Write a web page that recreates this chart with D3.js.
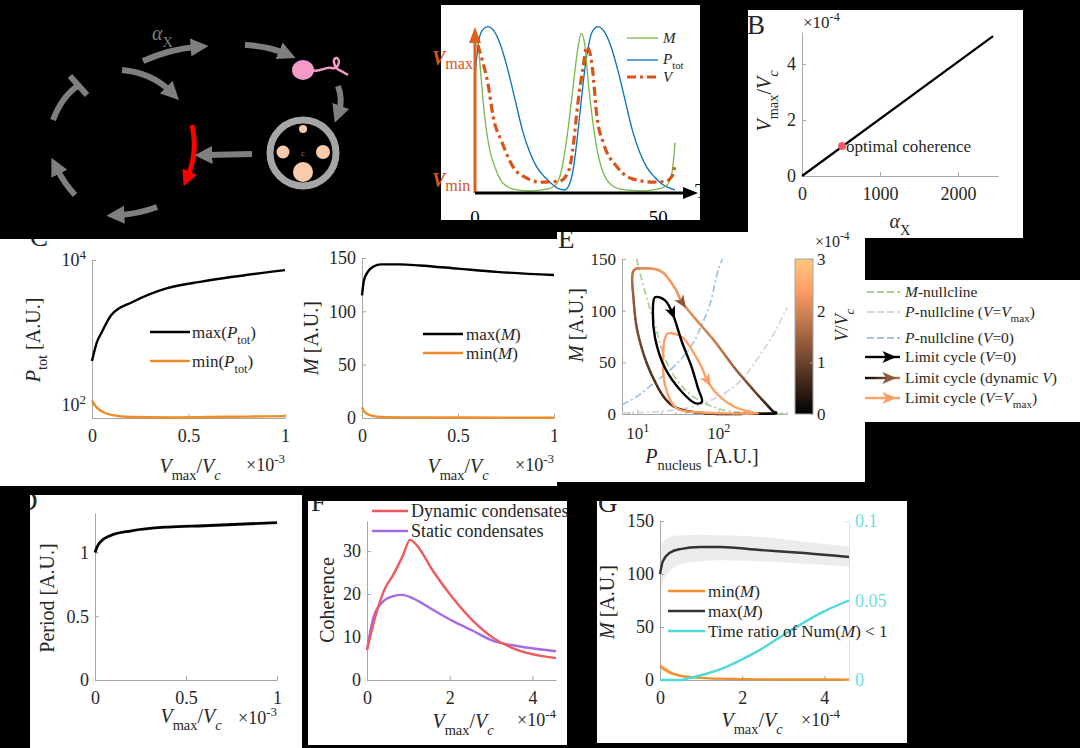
<!DOCTYPE html>
<html>
<head>
<meta charset="utf-8">
<script src="https://cdn.jsdelivr.net/npm/d3@7"></script>
<style>
body { margin: 0; background: #000; }
svg text { font-family: "Liberation Serif", "Times New Roman", serif; fill: #262626; }
</style>
</head>
<body>
<svg id="fig" width="1080" height="748"></svg>
<script>
// ---------- data ----------
// A (right): normalised time courses, [time, level]
var tsM = [[0,0.88],[0.6,0.91],[1.5,0.73],[2.2,0.55],[3,0.39],[4,0.26],[5.5,0.15],[7,0.077],[9,0.036],[11.5,0.018],[15,0.012],[20,0.024],[22,0.048],[23.5,0.125],[25,0.315],[26.5,0.58],[28,0.85],[29,0.95],[30,0.88],[31,0.64],[32,0.45],[33.3,0.26],[34.5,0.15],[36,0.077],[38,0.036],[41,0.018],[46,0.012],[50,0.024],[52.5,0.048],[53.8,0.125],[54.6,0.30]];
var tsP = [[0,0.70],[1,0.90],[2,0.97],[3.5,0.99],[5,0.97],[7,0.88],[9,0.73],[11,0.55],[13,0.37],[15,0.24],[17,0.15],[19,0.095],[21,0.054],[23,0.024],[24.5,0.018],[26,0.065],[27,0.167],[28,0.345],[29,0.55],[30,0.74],[31,0.88],[32,0.96],[33.6,0.99],[35,0.97],[37,0.88],[39,0.73],[41,0.55],[43,0.37],[45,0.24],[47,0.15],[49,0.095],[51,0.054],[53,0.03],[54.6,0.018]];
var tsV = [[0.8,0.88],[2,0.79],[3.5,0.655],[5,0.45],[7.4,0.30],[10.4,0.155],[14,0.09],[17.8,0.065],[23,0.07],[25,0.107],[26,0.167],[27,0.315],[28,0.52],[29.5,0.75],[30.5,0.87],[31.3,0.84],[32,0.75],[33.3,0.45],[35,0.30],[38.8,0.155],[42.3,0.09],[48.6,0.065],[52,0.07],[53.8,0.10],[54.6,0.167]];
var vLevels = [0.79, 0.065];          // Vmax, Vmin
var tsTicks = [0, 50];

// B
var alphaX = [0, 2450];
var vmaxRatioB = [0, 5];              // x1e-4
var optimal = [513, 1.07];

// C
var cX1 = [0, 0.026, 0.05, 0.1, 0.21, 0.39, 0.56, 0.73, 1.0];
var maxPtot = [404, 740, 1000, 1740, 2630, 4100, 5000, 5870, 7250];
var cX2 = [0, 0.01, 0.02, 0.05, 0.1, 0.2, 0.4, 0.6, 0.8, 1.0];
var minPtot = [115, 105, 95, 82, 73, 68, 67, 68, 69, 70];
var cX3 = [0, 0.01, 0.03, 0.06, 0.1, 0.2, 0.3, 0.5, 0.7, 1.0];
var maxMc = [115, 129, 137, 142, 144, 144, 143, 140, 137, 134];
var cX4 = [0, 0.01, 0.03, 0.06, 0.1, 0.2, 0.5, 1.0];
var minMc = [10, 6.5, 3.5, 1.8, 1.0, 0.6, 0.4, 0.3];

// D
var dX = [0, 0.01, 0.027, 0.08, 0.2, 0.4, 0.6, 1.0];
var period = [1.0, 1.04, 1.08, 1.13, 1.17, 1.20, 1.21, 1.235];

// E: phase plane, [P_nucleus, M]
var mNull = [[9.85,150],[12.5,118],[16.6,86],[22,54],[32,31],[51,16],[112,4],[280,1],[660,0]];
var pNullVmax = [[6.5,1],[20,2.5],[42,6],[80,13],[176,30],[345,60],[500,80],[700,103]];
var pNullV0 = [[6.5,9],[10,17],[16.6,31],[25,42],[35.5,54],[50,70],[62,86],[78,105],[90,125],[100,140],[112,150]];
var loopV0 = [[16.6,113],[22,110],[26.8,98.7],[35.6,69.7],[47.3,44.5],[56,25],[62.8,11.6],[51.5,10.6],[35.6,21.3],[22,44.5],[16.6,73.6],[15.6,98.7]];
var loopVmax = [[23.9,78],[35.6,74.5],[51.5,57],[62.8,44.5],[72.4,33],[98.9,18.4],[160,6.8],[282,1],[307,0.3],[150,0.5],[60,1.5],[35,3.5],[29,7],[22,28],[20.8,54],[22,73.5]];
var loopDyn = [[8.9,137.5],[12.5,141],[20.2,137.5],[29.2,121.7],[35.3,108.7],[51.5,92.6],[90.8,70],[160,44.2],[282,21.6],[453,3.9],[498,0.7],[282,0.2],[68.5,0.7],[26.6,8.7],[15.1,37.8],[10.3,76.5],[9,112]];
var loopDynV = [1.8, 2.1, 2.3, 2.3, 2.2, 2.1, 1.9, 1.5, 1.0, 0.4, 0.15, 0.2, 0.4, 0.6, 0.8, 1.1, 1.4];   // x1e-4
var arrowAt = { v0: 2, dyn: 4, vmax: 4 };
var cbarTicks = [0, 1, 2, 3];

// F
var dynX = [0, 0.24, 0.44, 0.63, 0.87, 1.04, 1.2, 1.6, 2.08, 2.57, 3.05, 3.63, 4.57];
var dynCoh = [7, 16, 21.4, 24.4, 29, 32.6, 31.4, 25.3, 19, 13.7, 9.8, 7, 5.1];
var statX = [0, 0.15, 0.36, 0.63, 0.85, 1.11, 1.6, 2.08, 2.57, 3.05, 3.63, 4.57];
var statCoh = [7, 14.4, 18, 19.5, 19.8, 19, 16.3, 13.7, 11.4, 9.1, 7.9, 6.7];

// G
var gX = [0, 0.07, 0.24, 0.49, 0.98, 1.46, 2.44, 3.41, 4.6];
var gMaxM = [100, 112, 120, 123.5, 125.5, 125.5, 122.6, 120, 116];
var gMaxHi = [124, 130, 135, 136.5, 137, 136.5, 135, 131, 126];
var gMaxLo = [72, 92, 103, 109, 112, 113, 112, 110, 107];
var gX2 = [0, 0.1, 0.25, 0.5, 0.8, 1.2, 2, 3, 4.6];
var gMinM = [13, 10.5, 7, 4, 2.5, 1.5, 0.8, 0.5, 0.4];
var gMinHi = [16, 13, 9, 5, 3, 2, 1, 0.7, 0.6];
var gMinLo = [10, 8, 5, 3, 2, 1, 0.5, 0.3, 0.2];
var gX3 = [0, 0.5, 0.73, 1.0, 1.54, 2.0, 2.37, 3.17, 3.98, 4.6];
var timeRatio = [0, 0, 0.0013, 0.003, 0.0075, 0.013, 0.018, 0.031, 0.043, 0.05];

// ---------- helpers ----------
var svg = d3.select('#fig');
svg.append('rect').attr('width', 1080).attr('height', 748).attr('fill', '#000');
var defs = svg.append('defs');

var boxes = {
    ts: [441, 5, 259, 215],
    B: [748, 10, 275, 228],
    C: [0, 239, 557, 247],
    E: [557, 232, 308, 250],
    Eleg: [865, 280, 215, 142],
    D: [30, 495, 272, 253],
    F: [308, 501, 259, 244],
    G: [597, 501, 310, 242]
};
Object.keys(boxes).forEach(function(k) {
    var b = boxes[k];
    svg.append('rect').attr('x', b[0]).attr('y', b[1]).attr('width', b[2]).attr('height', b[3]).attr('fill', '#fff');
    defs.append('clipPath').attr('id', 'clip-' + k)
        .append('rect').attr('x', b[0]).attr('y', b[1]).attr('width', b[2]).attr('height', b[3]);
});
function panel(k) {
    return svg.append('g').attr('clip-path', 'url(#clip-' + k + ')');
}

// tiny markup: $..$ italic, _{..} sub, _i{..} italic sub, ^{..} sup
function rich(text, str, fs) {
    var re = /(_i\{[^}]*\}|_\{[^}]*\}|\^\{[^}]*\}|\$[^$]+\$)/g;
    var parts = str.split(re).filter(function(s) { return s && s.length; });
    var off = 0;
    parts.forEach(function(p) {
        var t = p, italic = false, shift = 0, small = false;
        if (p.indexOf('_i{') === 0) { t = p.slice(3, -1); italic = true; shift = 0.33 * fs; small = true; }
        else if (p.indexOf('_{') === 0) { t = p.slice(2, -1); shift = 0.33 * fs; small = true; }
        else if (p.indexOf('^{') === 0) { t = p.slice(2, -1); shift = -0.42 * fs; small = true; }
        else if (p[0] === '$' && p.length > 1 && p[p.length - 1] === '$') { t = p.slice(1, -1); italic = true; }
        var ts = text.append('tspan').text(t);
        if (shift - off !== 0) ts.attr('dy', shift - off);
        off = shift;
        if (italic) ts.style('font-style', 'italic');
        if (small) ts.style('font-size', (fs * 0.72) + 'px');
    });
    return text;
}
function label(g, x, y, str, fs, anchor, fill) {
    var t = g.append('text').attr('x', x).attr('y', y).attr('font-size', fs)
        .attr('text-anchor', anchor || 'start');
    if (fill) t.style('fill', fill);
    return rich(t, str, fs);
}
function vlabel(g, x, y, str, fs, fill) {
    var t = g.append('text').attr('transform', 'translate(' + x + ',' + y + ') rotate(-90)')
        .attr('text-anchor', 'middle').attr('font-size', fs);
    if (fill) t.style('fill', fill);
    return rich(t, str, fs);
}
function styleAxis(g, fs, col, txt) {
    col = col || '#a6a6a6';
    g.attr('font-size', fs);
    g.select('.domain').attr('stroke', col);
    g.selectAll('.tick line').attr('stroke', col);
    g.selectAll('.tick text').style('fill', txt || '#262626');
}
function xAxis(g, scale, y, vals, fs, fmt) {
    var a = g.append('g').attr('transform', 'translate(0,' + y + ')')
        .call(d3.axisBottom(scale).tickValues(vals).tickSizeInner(-4).tickSizeOuter(0).tickPadding(11)
            .tickFormat(fmt || function(d) { return d; }));
    styleAxis(a, fs);
    return a;
}
function yAxis(g, scale, x, vals, fs, fmt) {
    var a = g.append('g').attr('transform', 'translate(' + x + ',0)')
        .call(d3.axisLeft(scale).tickValues(vals).tickSizeInner(-4).tickSizeOuter(0).tickPadding(6)
            .tickFormat(fmt || function(d) { return d; }));
    styleAxis(a, fs);
    return a;
}
function powTicks(a, fs) {
    a.selectAll('.tick text').each(function(d) {
        var t = d3.select(this).text('');
        rich(t, '10^{' + Math.round(Math.log10(d)) + '}', fs);
    });
}
function zip(xs, ys) { return xs.map(function(x, i) { return [x, ys[i]]; }); }
function legendLine(g, x1, x2, y, col, w, dash) {
    g.append('line').attr('x1', x1).attr('x2', x2).attr('y1', y).attr('y2', y)
        .attr('stroke', col).attr('stroke-width', w).attr('stroke-dasharray', dash || null);
}
function arrowHead(g, p, q, col, size) {
    var dx = q[0] - p[0], dy = q[1] - p[1], L = Math.sqrt(dx * dx + dy * dy) || 1;
    dx /= L; dy /= L;
    var tip = [p[0] + dx * size * 0.6, p[1] + dy * size * 0.6];
    var b = [p[0] - dx * size * 0.4, p[1] - dy * size * 0.4];
    var w = size * 0.42;
    g.append('path').attr('d', 'M' + tip + 'L' + [b[0] - dy * w, b[1] + dx * w] + 'L' + [p[0] - dx * size * 0.15, p[1] - dy * size * 0.15] + 'L' + [b[0] + dy * w, b[1] - dx * w] + 'Z')
        .attr('fill', col);
}
function copper(t) {
    t = Math.max(0, Math.min(1, t));
    return d3.rgb(Math.min(255, 1.25 * t * 255), 0.7812 * t * 255, 0.4975 * t * 255).toString();
}

// ---------- A: schematic ----------
var gray = '#7f7f7f';
defs.append('marker').attr('id', 'ah').attr('viewBox', '0 0 10 10').attr('refX', 3).attr('refY', 5)
    .attr('markerWidth', 3).attr('markerHeight', 3).attr('orient', 'auto')
    .append('path').attr('d', 'M0,0L10,5L0,10Z').attr('fill', gray);
defs.append('marker').attr('id', 'ahr').attr('viewBox', '0 0 10 10').attr('refX', 3).attr('refY', 5)
    .attr('markerWidth', 3.2).attr('markerHeight', 3.2).attr('orient', 'auto')
    .append('path').attr('d', 'M0,0L10,5L0,10Z').attr('fill', '#ff0000');
var sch = svg.append('g');
var schPaths = [
    'M143,61 Q170,49 196,47',
    'M122,70 Q152,73 170,91',
    'M245,45 Q268,46 284,53',
    'M338,86 Q343,100 339,111',
    'M252,154 L207,155',
    'M75,195 Q64,183 57,169',
    'M157,207 Q138,214 119,215'
];
schPaths.forEach(function(d) {
    sch.append('path').attr('d', d).attr('fill', 'none').attr('stroke', gray).attr('stroke-width', 6)
        .attr('marker-end', 'url(#ah)');
});
sch.append('path').attr('d', 'M53,120 Q62,96 79,85').attr('fill', 'none').attr('stroke', gray).attr('stroke-width', 6);
sch.append('path').attr('d', 'M70,76 L87,95').attr('stroke', gray).attr('stroke-width', 6);
sch.append('path').attr('d', 'M192,125 Q198,152 188,176').attr('fill', 'none').attr('stroke', '#ff0000')
    .attr('stroke-width', 5).attr('marker-end', 'url(#ahr)');
sch.append('ellipse').attr('cx', 303).attr('cy', 70).attr('rx', 11).attr('ry', 10).attr('fill', '#f49ac9');
sch.append('path').attr('d', 'M312,70 C320,73 325,66 332,68 C338,70 341,60 337,58 C332,57 333,68 341,71 L348,75')
    .attr('fill', 'none').attr('stroke', '#f49ac9').attr('stroke-width', 2.5);
sch.append('circle').attr('cx', 303).attr('cy', 153).attr('r', 33).attr('fill', '#000')
    .attr('stroke', '#a6a6a6').attr('stroke-width', 7);
[[303, 129, 4], [283, 152, 6.5], [323, 152, 7], [303, 172, 10]].forEach(function(c) {
    sch.append('circle').attr('cx', c[0]).attr('cy', c[1]).attr('r', c[2]).attr('fill', '#f8cbad');
});
label(sch, 303, 156, 'c', 8, 'middle', '#8a8a8a');
label(sch, 152, 40, '$α$_{X}', 20, 'start', gray);

// ---------- A: time course ----------
var gts = panel('ts');
var tsx = d3.scaleLinear().domain([0, 59.5]).range([475, 693]);
var tsy = d3.scaleLinear().domain([0, 1]).range([193, 25]);
var tsLine = d3.line().x(function(d) { return tsx(d[0]); }).y(function(d) { return tsy(d[1]); })
    .curve(d3.curveMonotoneX);
gts.append('path').datum(tsP).attr('d', tsLine).attr('fill', 'none').attr('stroke', '#0072bd').attr('stroke-width', 1.3);
gts.append('path').datum(tsM).attr('d', tsLine).attr('fill', 'none').attr('stroke', '#77b84a').attr('stroke-width', 1.3);
gts.append('path').datum(tsV).attr('d', tsLine).attr('fill', 'none').attr('stroke', '#d95319')
    .attr('stroke-width', 3.2).attr('stroke-dasharray', '9,4,3,4');
gts.append('line').attr('x1', tsx(0)).attr('x2', tsx(0)).attr('y1', tsy(0)).attr('y2', 42)
    .attr('stroke', '#e0601e').attr('stroke-width', 3);
gts.append('path').attr('d', 'M' + tsx(0) + ',27L' + (tsx(0) - 6) + ',43L' + (tsx(0) + 6) + ',43Z').attr('fill', '#e0601e');
gts.append('line').attr('x1', tsx(0)).attr('x2', 685).attr('y1', tsy(0)).attr('y2', tsy(0))
    .attr('stroke', '#000').attr('stroke-width', 3);
gts.append('path').attr('d', 'M698,' + tsy(0) + 'L683,' + (tsy(0) - 6) + 'L683,' + (tsy(0) + 6) + 'Z').attr('fill', '#000');
tsTicks.forEach(function(t) { label(gts, tsx(t), 224, String(t), 19, 'middle', '#000'); });
label(gts, 695, 198, 'T', 20, 'start', '#000');
legendLine(gts, 627, 658, 38, '#77b84a', 1.3);
legendLine(gts, 627, 658, 60, '#0072bd', 1.3);
legendLine(gts, 627, 658, 77, '#d95319', 3, '9,4,3,4');
label(gts, 663, 43, '$M$', 15);
label(gts, 663, 64, '$P$_{tot}', 15);
label(gts, 663, 82, '$V$', 15);
[['max', vLevels[0]], ['min', vLevels[1]]].forEach(function(v) {
    var t = svg.append('text').attr('x', 432).attr('y', tsy(v[1]) + 5).attr('font-size', 20).style('fill', '#d95319');
    t.append('tspan').text('V').style('font-style', 'italic').style('font-weight', 'bold');
    t.append('tspan').attr('dy', 4).style('font-size', '16px').text(v[0]);
});

// ---------- B ----------
var gB = panel('B');
var bx = d3.scaleLinear().domain([0, 2513]).range([802, 998]);
var by = d3.scaleLinear().domain([0, 5.15]).range([176, 32]);
xAxis(gB, bx, 176, [0, 1000, 2000], 18);
yAxis(gB, by, 802, [0, 2, 4], 18);
gB.append('path').datum(zip(alphaX, vmaxRatioB))
    .attr('d', d3.line().x(function(d) { return bx(d[0]); }).y(function(d) { return by(d[1]); }))
    .attr('stroke', '#000').attr('stroke-width', 2.2).attr('fill', 'none');
gB.append('circle').attr('cx', bx(optimal[0])).attr('cy', by(optimal[1])).attr('r', 4).attr('fill', '#f05a6e');
label(gB, bx(optimal[0]) + 4, by(optimal[1]) + 6, 'optimal coherence', 17);
label(gB, 803, 28, '×10^{-4}', 17);
vlabel(gB, 771, 101, '$V$_{max}/$V$_i{c}', 20);
label(gB, 900, 228, '$α$_{X}', 20, 'middle');
label(gB, 747, 34, 'B', 27);

// ---------- C ----------
var gC = panel('C');
label(gC, 30, 246, 'C', 27);
var c1x = d3.scaleLinear().domain([0, 1]).range([92, 285]);
var c1y = d3.scaleLog().domain([66, 10000]).range([418, 260]);
xAxis(gC, c1x, 418, [0, 0.5, 1], 18);
var c1ya = yAxis(gC, c1y, 92, [100, 10000], 18);
powTicks(c1ya, 18);
var c1line = d3.line().x(function(d) { return c1x(d[0]); }).y(function(d) { return c1y(d[1]); }).curve(d3.curveMonotoneX);
gC.append('path').datum(zip(cX2, minPtot)).attr('d', c1line).attr('fill', 'none').attr('stroke', '#f08c26').attr('stroke-width', 2.4);
gC.append('path').datum(zip(cX1, maxPtot)).attr('d', c1line).attr('fill', 'none').attr('stroke', '#000').attr('stroke-width', 2.4);
legendLine(gC, 150, 190, 332, '#000', 2.4);
legendLine(gC, 150, 190, 361, '#f08c26', 2.4);
label(gC, 192, 338, 'max($P$_{tot})', 17);
label(gC, 192, 367, 'min($P$_{tot})', 17);
vlabel(gC, 40, 340, '$P$_{tot} [A.U.]', 20);
label(gC, 190, 473, '$V$_{max}/$V$_i{c}', 20, 'middle');
label(gC, 285, 471, '×10^{-3}', 18, 'end');

var c2x = d3.scaleLinear().domain([0, 1]).range([362, 554]);
var c2y = d3.scaleLinear().domain([0, 150]).range([418, 258]);
xAxis(gC, c2x, 418, [0, 0.5, 1], 18);
yAxis(gC, c2y, 362, [0, 50, 100, 150], 18);
var c2line = d3.line().x(function(d) { return c2x(d[0]); }).y(function(d) { return c2y(d[1]); }).curve(d3.curveMonotoneX);
gC.append('path').datum(zip(cX4, minMc)).attr('d', c2line).attr('fill', 'none').attr('stroke', '#f08c26').attr('stroke-width', 2.4);
gC.append('path').datum(zip(cX3, maxMc)).attr('d', c2line).attr('fill', 'none').attr('stroke', '#000').attr('stroke-width', 2.4);
legendLine(gC, 423, 463, 334, '#000', 2.4);
legendLine(gC, 423, 463, 353, '#f08c26', 2.4);
label(gC, 466, 340, 'max($M$)', 17);
label(gC, 466, 359, 'min($M$)', 17);
vlabel(gC, 318, 338, '$M$ [A.U.]', 20);
label(gC, 458, 473, '$V$_{max}/$V$_i{c}', 20, 'middle');
label(gC, 554, 471, '×10^{-3}', 18, 'end');

// ---------- E ----------
var gE = panel('E');
label(gE, 558, 248, 'E', 27);
var ex = d3.scaleLog().domain([6.5, 700]).range([622, 787]);
var ey = d3.scaleLinear().domain([0, 150]).range([414, 259]);
var exa = xAxis(gE, ex, 414, [10, 100], 17);
powTicks(exa, 17);
exa.selectAll('.tick text').attr('dy', '0.85em');
yAxis(gE, ey, 622, [0, 50, 100, 150], 17);
var minor = [7, 8, 9, 20, 30, 40, 50, 60, 70, 80, 90, 200, 300, 400, 500, 600, 700];
gE.selectAll('.minor').data(minor).enter().append('line')
    .attr('x1', function(d) { return ex(d); }).attr('x2', function(d) { return ex(d); })
    .attr('y1', 414).attr('y2', 412).attr('stroke', '#a6a6a6');
var eLine = d3.line().x(function(d) { return ex(d[0]); }).y(function(d) { return ey(d[1]); });
gE.append('path').datum(pNullV0).attr('d', eLine.curve(d3.curveCatmullRom)).attr('fill', 'none')
    .attr('stroke', '#9ec4e6').attr('stroke-width', 1.8).attr('stroke-dasharray', '7,3,2,3');
gE.append('path').datum(pNullVmax).attr('d', eLine.curve(d3.curveCatmullRom)).attr('fill', 'none')
    .attr('stroke', '#d6d6d8').attr('stroke-width', 1.8).attr('stroke-dasharray', '7,3,2,3');
gE.append('path').datum(mNull).attr('d', eLine.curve(d3.curveCatmullRom)).attr('fill', 'none')
    .attr('stroke', '#acd08f').attr('stroke-width', 1.8).attr('stroke-dasharray', '7,3,2,3');

var closedLine = d3.line().x(function(d) { return ex(d[0]); }).y(function(d) { return ey(d[1]); })
    .curve(d3.curveCatmullRomClosed.alpha(0.5));
// dynamic-V loop, coloured by V
var dynPts = loopDyn.map(function(d, i) { return [ex(d[0]), ey(d[1]), loopDynV[i]]; });
function crClosed(pts, n) {
    var out = [], L = pts.length;
    for (var i = 0; i < L; i++) {
        var p0 = pts[(i - 1 + L) % L], p1 = pts[i], p2 = pts[(i + 1) % L], p3 = pts[(i + 2) % L];
        for (var k = 0; k < n; k++) {
            var s = k / n, s2 = s * s, s3 = s2 * s;
            out.push(p1.map(function(_, j) {
                return 0.5 * (2 * p1[j] + (-p0[j] + p2[j]) * s + (2 * p0[j] - 5 * p1[j] + 4 * p2[j] - p3[j]) * s2 + (-p0[j] + 3 * p1[j] - 3 * p2[j] + p3[j]) * s3);
            }));
        }
    }
    out.push(out[0]);
    return out;
}
var dense = crClosed(dynPts, 12);
for (var i = 0; i < dense.length - 1; i++) {
    gE.append('line').attr('x1', dense[i][0]).attr('y1', dense[i][1]).attr('x2', dense[i + 1][0]).attr('y2', dense[i + 1][1])
        .attr('stroke', copper(dense[i][2] / 3)).attr('stroke-width', 2.4).attr('stroke-linecap', 'round');
}
var vmaxCol = copper(0.8);
gE.append('path').datum(loopVmax).attr('d', closedLine).attr('fill', 'none').attr('stroke', vmaxCol).attr('stroke-width', 2.4);
gE.append('path').datum(loopV0).attr('d', closedLine).attr('fill', 'none').attr('stroke', '#000').attr('stroke-width', 2.4);
function loopArrow(data, i, col) {
    var p = [ex(data[i][0]), ey(data[i][1])];
    var a = [ex(data[i - 1][0]), ey(data[i - 1][1])], b = [ex(data[i + 1][0]), ey(data[i + 1][1])];
    arrowHead(gE, p, [p[0] + (b[0] - a[0]), p[1] + (b[1] - a[1])], col, 13);
}
loopArrow(loopV0, arrowAt.v0, '#000');
loopArrow(loopDyn, arrowAt.dyn, copper(loopDynV[arrowAt.dyn] / 3 * 0.6));
loopArrow(loopVmax, arrowAt.vmax, vmaxCol);
vlabel(gE, 583, 325, '$M$ [A.U.]', 20);
label(gE, 702, 463, '$P$_{nucleus} [A.U.]', 20, 'middle');

// colorbar
var cb = defs.append('linearGradient').attr('id', 'cbar').attr('x1', 0).attr('x2', 0).attr('y1', 1).attr('y2', 0);
d3.range(0, 1.01, 0.1).forEach(function(t) { cb.append('stop').attr('offset', t).attr('stop-color', copper(t)); });
var cby = d3.scaleLinear().domain([0, 3]).range([414, 259]);
gE.append('rect').attr('x', 795).attr('y', cby(3)).attr('width', 18).attr('height', cby(0) - cby(3))
    .attr('fill', 'url(#cbar)').attr('stroke', '#a6a6a6');
var cba = gE.append('g').attr('transform', 'translate(813,0)')
    .call(d3.axisRight(cby).tickValues(cbarTicks).tickSizeInner(-3).tickSizeOuter(0).tickPadding(4).tickFormat(function(d) { return d; }));
styleAxis(cba, 17);
cba.select('.domain').remove();
label(gE, 815, 247, '×10^{-4}', 16);
vlabel(gE, 848, 325, '$V$/$V$_i{c}', 18);

// E legend
var gL = panel('Eleg');
var legItems = [
    { y: 292, col: '#acd08f', dash: '7,3,7,3', txt: '$M$-nullcline' },
    { y: 312, col: '#d6d6d8', dash: '7,3,7,3', txt: '$P$-nullcline ($V$=$V$_{max})' },
    { y: 338, col: '#9ec4e6', dash: '7,3,7,3', txt: '$P$-nullcline ($V$=0)' },
    { y: 357, col: '#000', arrow: '#000', txt: 'Limit cycle ($V$=0)' },
    { y: 378, col: 'url(#legdyn)', arrow: copper(0.45), txt: 'Limit cycle (dynamic $V$)' },
    { y: 398, col: vmaxCol, arrow: vmaxCol, txt: 'Limit cycle ($V$=$V$_{max})' }
];
var lg = defs.append('linearGradient').attr('id', 'legdyn').attr('gradientUnits', 'userSpaceOnUse')
    .attr('x1', 865).attr('x2', 900).attr('y1', 0).attr('y2', 0);
lg.append('stop').attr('offset', 0).attr('stop-color', '#000');
lg.append('stop').attr('offset', 1).attr('stop-color', copper(0.6));
legItems.forEach(function(it) {
    gL.append('rect').attr('x', 865).attr('y', it.y - 1.2).attr('width', 35).attr('height', it.arrow ? 2.4 : 1.8)
        .attr('fill', it.dash ? 'none' : it.col);
    if (it.dash) legendLine(gL, 867, 900, it.y, it.col, 1.8, it.dash);
    if (it.arrow) arrowHead(gL, [888, it.y], [900, it.y], it.arrow, 14);
    label(gL, 905, it.y + 5, it.txt, 15.5);
});

// ---------- D ----------
var gD = panel('D');
label(gD, 18, 510, 'D', 27);
var dx = d3.scaleLinear().domain([0, 1]).range([95, 277]);
var dy = d3.scaleLinear().domain([0, 1.31]).range([680, 513]);
xAxis(gD, dx, 680, [0, 0.5, 1], 18);
yAxis(gD, dy, 95, [0, 0.5, 1], 18);
gD.append('path').datum(zip(dX, period))
    .attr('d', d3.line().x(function(d) { return dx(d[0]); }).y(function(d) { return dy(d[1]); }).curve(d3.curveMonotoneX))
    .attr('fill', 'none').attr('stroke', '#000').attr('stroke-width', 2.8);
vlabel(gD, 54, 598, 'Period [A.U.]', 20);
label(gD, 191, 723, '$V$_{max}/$V$_i{c}', 20, 'middle');
label(gD, 277, 724, '×10^{-3}', 18, 'end');

// ---------- F ----------
var gF = panel('F');
label(gF, 311, 511, 'F', 27);
var fx = d3.scaleLinear().domain([0, 4.57]).range([367, 556]);
var fy = d3.scaleLinear().domain([0, 37]).range([680, 521]);
xAxis(gF, fx, 680, [0, 2, 4], 18);
yAxis(gF, fy, 367, [0, 10, 20, 30], 18);
var fLine = d3.line().x(function(d) { return fx(d[0]); }).y(function(d) { return fy(d[1]); }).curve(d3.curveMonotoneX);
gF.append('path').datum(zip(statX, statCoh)).attr('d', fLine).attr('fill', 'none').attr('stroke', '#a56be6').attr('stroke-width', 2.4);
gF.append('path').datum(zip(dynX, dynCoh)).attr('d', fLine).attr('fill', 'none').attr('stroke', '#ef5a5e').attr('stroke-width', 2.4);
legendLine(gF, 372, 408, 511, '#ef5a5e', 2.4);
legendLine(gF, 372, 408, 531, '#a56be6', 2.4);
label(gF, 411, 517, 'Dynamic condensates', 18);
label(gF, 411, 537, 'Static condensates', 18);
vlabel(gF, 334, 600, 'Coherence', 20);
label(gF, 463, 728, '$V$_{max}/$V$_i{c}', 20, 'middle');
label(gF, 556, 726, '×10^{-4}', 18, 'end');

// ---------- G ----------
var gG = panel('G');
label(gG, 598, 512, 'G', 27);
var gx = d3.scaleLinear().domain([0, 4.6]).range([660, 849]);
var gy = d3.scaleLinear().domain([0, 150]).range([680, 521]);
var gyR = d3.scaleLinear().domain([0, 0.1]).range([680, 521]);
var gArea = d3.area().x(function(d) { return gx(d[0]); }).y0(function(d) { return gy(d[1]); }).y1(function(d) { return gy(d[2]); }).curve(d3.curveMonotoneX);
gG.append('path').datum(gX.map(function(x, i) { return [x, gMaxLo[i], gMaxHi[i]]; })).attr('d', gArea).attr('fill', '#ececec');
gG.append('path').datum(gX2.map(function(x, i) { return [x, gMinLo[i], gMinHi[i]]; })).attr('d', gArea).attr('fill', '#fbd9b5');
xAxis(gG, gx, 680, [0, 2, 4], 18);
yAxis(gG, gy, 660, [0, 50, 100, 150], 18);
var gra = gG.append('g').attr('transform', 'translate(849,0)')
    .call(d3.axisRight(gyR).tickValues([0, 0.05, 0.1]).tickSizeInner(-4).tickSizeOuter(0).tickPadding(6).tickFormat(function(d) { return d; }));
styleAxis(gra, 18, '#bff0f0', '#6fdede');
var gLine = d3.line().x(function(d) { return gx(d[0]); }).y(function(d) { return gy(d[1]); }).curve(d3.curveMonotoneX);
gG.append('path').datum(zip(gX2, gMinM)).attr('d', gLine).attr('fill', 'none').attr('stroke', '#f0902a').attr('stroke-width', 2.4);
gG.append('path').datum(zip(gX, gMaxM)).attr('d', gLine).attr('fill', 'none').attr('stroke', '#333').attr('stroke-width', 2.4);
gG.append('path').datum(zip(gX3, timeRatio))
    .attr('d', d3.line().x(function(d) { return gx(d[0]); }).y(function(d) { return gyR(d[1]); }).curve(d3.curveMonotoneX))
    .attr('fill', 'none').attr('stroke', '#4fd8d8').attr('stroke-width', 2.4);
legendLine(gG, 668, 705, 591, '#f0902a', 2.4);
legendLine(gG, 668, 705, 611, '#333', 2.4);
legendLine(gG, 668, 705, 631, '#4fd8d8', 2.4);
label(gG, 708, 597, 'min($M$)', 17);
label(gG, 708, 617, 'max($M$)', 17);
label(gG, 708, 637, 'Time ratio of Num($M$) < 1', 17);
vlabel(gG, 614, 602, '$M$ [A.U.]', 20);
label(gG, 752, 727, '$V$_{max}/$V$_i{c}', 20, 'middle');
label(gG, 840, 726, '×10^{-4}', 18, 'end');
</script>
</body>
</html>
